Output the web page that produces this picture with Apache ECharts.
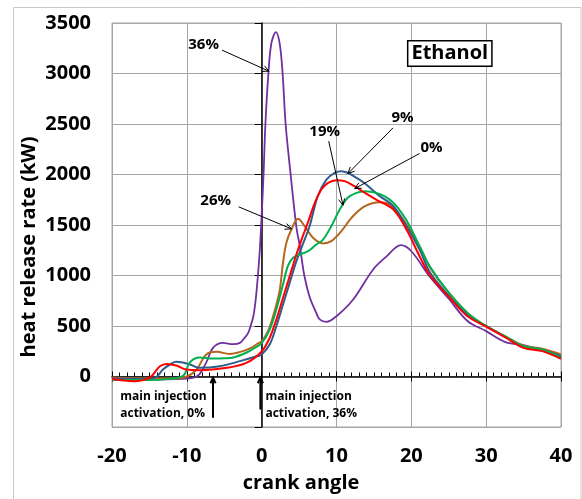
<!DOCTYPE html>
<html><head><meta charset="utf-8">
<script src="https://cdn.jsdelivr.net/npm/echarts@6/dist/echarts.min.js"></script>
<style>html,body{margin:0;padding:0;background:#fff}#c{width:582px;height:499px}</style>
</head><body><div id="c"></div><script>
// ---- data ----
const xTicks = [-20, -10, 0, 10, 20, 30, 40];
const yTicks = [0, 500, 1000, 1500, 2000, 2500, 3000, 3500];
const yBottom = -500;

const seriesNames = ['36%', '26%', '19%', '9%', '0%'];

const x36 = [-20,-15,-10,-9,-8.3,-7.4,-6.5,-5.2,-3.8,-2.9,-2.2,-1.8,-1.4,-1.1,-0.8,-0.5,-0.25,0,0.25,0.5,0.9,1.3,1.9,2.4,2.8,3.2,3.8,4.64,5.1,5.7,6.4,7.3,7.75,8.65,10,12.2,14.9,16.7,18.6,20,22.5,25,27.5,30,32.5,35,37.5,40];
const y36 = [-25,-30,-20,-10,23,139,284,333,320,333,390,432,520,600,760,1000,1250,1600,2000,2500,3000,3300,3410,3300,3000,2500,2050,1480,1290,1000,790,630,565,541,597,760,1060,1190,1300,1240,985,770,550,449,343,310,257,185];

const x26 = [-20,-15,-12,-10,-8.7,-7.4,-6,-4.3,-2.5,-1.5,-0.7,0,0.5,1.07,1.7,2.4,2.85,3.3,3.97,4.86,5.75,6.86,8.2,9.3,10.65,12,13.8,15.8,17.1,18.9,21.1,22.5,25,27.5,30,32.5,35,37.5,40];
const y26 = [-10,-20,-20,0,69,218,244,224,251,280,317,350,400,490,640,850,1125,1323,1455,1561,1488,1373,1317,1340,1439,1571,1686,1726,1703,1554,1290,1080,830,630,498,400,305,274,218];

const x19 = [-20,-15,-12.7,-10.5,-9.6,-8.3,-6.5,-5,-3.8,-2,-1,0,1.07,1.96,2.85,3.5,4.2,5.1,6.2,7.3,8.2,9.3,10.43,11.5,12.66,13.8,15.3,16.5,17.6,18.7,19.8,21.1,22.5,25,27.5,30,32.5,35,37.5,40];
const y19 = [-35,-35,-26,7,139,188,178,180,188,238,280,330,465,663,911,1092,1175,1208,1241,1307,1356,1488,1653,1769,1818,1835,1818,1780,1720,1620,1488,1290,1086,830,630,498,399,300,267,185];

const x9 = [-20,-15,-14,-13.2,-12,-11.4,-9.6,-8.3,-5.6,-2.9,-0.67,0,1.07,1.96,2.85,3.74,4.64,5.5,6.4,7.5,8.65,9.76,10.65,11.5,12.66,13.8,15.8,17.6,19.35,21.1,22.5,25,27.5,30,32.5,35,37.5,40];
const y9 = [-20,-26,0,69,130,145,119,86,102,152,200,218,317,498,713,927,1142,1310,1488,1785,1950,2017,2033,2017,1967,1911,1785,1686,1488,1257,1030,800,610,498,395,292,260,200];

const x0 = [-20,-17.2,-15,-13.6,-12.7,-11.4,-10.1,-8.3,-4.7,-2.05,0,1.07,1.96,2.85,3.74,4.64,5.5,6.2,7.1,7.98,8.87,10,11.1,12.4,13.8,15.3,17.6,19.35,21.1,22.5,25,27.5,30,32.5,35,37.5,40];
const y0 = [-25,-46,-13,102,125,109,69,63,86,135,248,383,564,779,993,1208,1390,1530,1720,1851,1917,1944,1934,1884,1818,1752,1653,1455,1191,1000,790,597,495,390,284,251,175];

// annotation arrows [x1, v1, x2, v2] in data units
const labelArrows = [[-5.3,3231,0.98,3023],[-3.08,1680,3.97,1462],[8.96,2330,10.87,1696],[17.56,2462,11.54,2010],[21.1,2208,12.44,1861]];
const injArrows = [[-6.5,-409,-6.5,-13],[-0.17,-327,-0.17,-13]];
// annotation texts [text, x, v]
const labelTexts = [['36%',-7.76,3280],['26%',-6.15,1736],['19%',8.42,2419],['9%',18.82,2561],['0%',22.69,2264]];
const injTexts = [['main injection\nactivation, 0%',-18.9,-281],['main injection\nactivation, 36%',0.5,-281]];
const boxText = ['Ethanol', 25.14, 3198];

// ---- chart ----
const FONT = '"Open Sans"';
const GRID = '#A6A6A6';
const colors = ['#7030A0', '#B5651D', '#00B050', '#2F5C8F', '#FF0000'];
const chart = echarts.init(document.getElementById('c'), null, {renderer: 'canvas'});

function mk(name, xs, ys, color, w) {
  return {
    name, type: 'line', data: xs.map((x, i) => [x, ys[i]]),
    showSymbol: false, symbol: 'none', smooth: 0.35, animation: false,
    lineStyle: {color, width: w}, itemStyle: {color}, xAxisIndex: 0, yAxisIndex: 0, silent: true
  };
}

const xCommon = {type: 'value', min: xTicks[0], max: xTicks[xTicks.length - 1], interval: 10, position: 'bottom'};
const yCommon = {type: 'value', min: yBottom, max: yTicks[yTicks.length - 1], interval: 500, position: 'left'};

const option = {
  animation: false,
  backgroundColor: '#fff',
  grid: {left: 112, right: 21, top: 23, bottom: 72, show: true, borderColor: GRID, borderWidth: 1, containLabel: false},
  xAxis: [
    Object.assign({}, xCommon, {
      axisLine: {show: false, onZero: false}, axisTick: {show: false},
      axisLabel: {fontFamily: FONT, fontSize: 20, fontWeight: 'bold', color: '#000', margin: 19},
      splitLine: {show: true, lineStyle: {color: GRID, width: 1}}
    }),
    Object.assign({}, xCommon, {
      axisLine: {show: true, onZero: true, onZeroAxisIndex: 0, lineStyle: {color: '#000', width: 1.5}},
      axisTick: {show: true, inside: true, length: 5, lineStyle: {color: '#000', width: 1}},
      minorTick: {show: true, splitNumber: 10, length: 4, lineStyle: {color: '#000', width: 1}},
      axisLabel: {show: false}, splitLine: {show: false}
    }),
    Object.assign({}, xCommon, {
      axisLine: {show: false, onZero: true, onZeroAxisIndex: 0},
      axisTick: {show: true, inside: false, length: 5, lineStyle: {color: '#000', width: 1}},
      axisLabel: {show: false}, splitLine: {show: false}
    })
  ],
  yAxis: [
    Object.assign({}, yCommon, {
      axisLine: {show: false, onZero: false}, axisTick: {show: false},
      axisLabel: {fontFamily: FONT, fontSize: 20, fontWeight: 'bold', color: '#000', margin: 21,
        formatter: v => (yTicks.indexOf(v) >= 0 ? String(v) : '')},
      splitLine: {show: true, lineStyle: {color: GRID, width: 1}}
    }),
    Object.assign({}, yCommon, {
      axisLine: {show: true, onZero: true, onZeroAxisIndex: 0, lineStyle: {color: '#000', width: 1.5}},
      axisTick: {show: true, inside: false, length: 7, lineStyle: {color: '#000', width: 1}},
      axisLabel: {show: false}, splitLine: {show: false}
    })
  ],
  series: [
    mk(seriesNames[0], x36, y36, colors[0], 1.8),
    mk(seriesNames[1], x26, y26, colors[1], 2),
    mk(seriesNames[3], x9, y9, colors[3], 2),
    mk(seriesNames[2], x19, y19, colors[2], 2),
    mk(seriesNames[4], x0, y0, colors[4], 2)
  ]
};
chart.setOption(option);

const toPx = (x, v) => chart.convertToPixel({xAxisIndex: 0, yAxisIndex: 0}, [x, v]);
function arrowGraphic(a, w, head) {
  const p1 = toPx(a[0], a[1]), p2 = toPx(a[2], a[3]);
  const ang = Math.atan2(p2[1] - p1[1], p2[0] - p1[0]);
  const h1 = [p2[0] - head * Math.cos(ang - 0.45), p2[1] - head * Math.sin(ang - 0.45)];
  const h2 = [p2[0] - head * Math.cos(ang + 0.45), p2[1] - head * Math.sin(ang + 0.45)];
  return [
    {type: 'line', silent: true, z: 10, shape: {x1: p1[0], y1: p1[1], x2: p2[0], y2: p2[1]}, style: {stroke: '#000', lineWidth: w}},
    {type: 'polyline', silent: true, z: 10, shape: {points: [h1, p2, h2]}, style: {stroke: '#000', lineWidth: w, fill: null}}
  ];
}
const graphics = [
  {type: 'rect', shape: {x: 13.5, y: 7.5, width: 567.5, height: 500}, style: {fill: 'none', stroke: '#C8C8C8', lineWidth: 1}, silent: true, z: -1},
  {type: 'text', x: 29, y: 247, rotation: Math.PI / 2, silent: true,
    style: {text: 'heat release rate (kW)', font: 'bold 20px ' + FONT, fill: '#000', align: 'center', verticalAlign: 'middle'}},
  {type: 'text', x: 301, y: 483, silent: true,
    style: {text: 'crank angle', font: 'bold 20px ' + FONT, fill: '#000', align: 'center', verticalAlign: 'middle'}}
];
labelArrows.forEach(a => graphics.push(...arrowGraphic(a, 1, 7)));
injArrows.forEach(a => graphics.push(...arrowGraphic(a, 2, 6)));
labelTexts.forEach(t => {
  const p = toPx(t[1], t[2]);
  graphics.push({type: 'text', x: p[0], y: p[1], silent: true, z: 10,
    style: {text: t[0], font: 'bold 15px ' + FONT, fill: '#000', align: 'center', verticalAlign: 'middle'}});
});
injTexts.forEach(t => {
  const p = toPx(t[1], t[2]);
  graphics.push({type: 'text', x: p[0], y: p[1], silent: true, z: 10,
    style: {text: t[0], font: 'bold 12px ' + FONT, lineHeight: 17, fill: '#000', align: 'left', verticalAlign: 'middle'}});
});
{
  const p = toPx(boxText[1], boxText[2]);
  graphics.push({type: 'text', x: p[0], y: p[1], silent: true, z: 10,
    style: {text: boxText[0], font: 'bold 20px ' + FONT, fill: '#000', align: 'center', verticalAlign: 'middle',
      backgroundColor: '#fff', borderColor: '#000', borderWidth: 1.5, padding: [2, 3, 2, 3]}});
}
chart.setOption({graphic: graphics});
</script></body></html>
